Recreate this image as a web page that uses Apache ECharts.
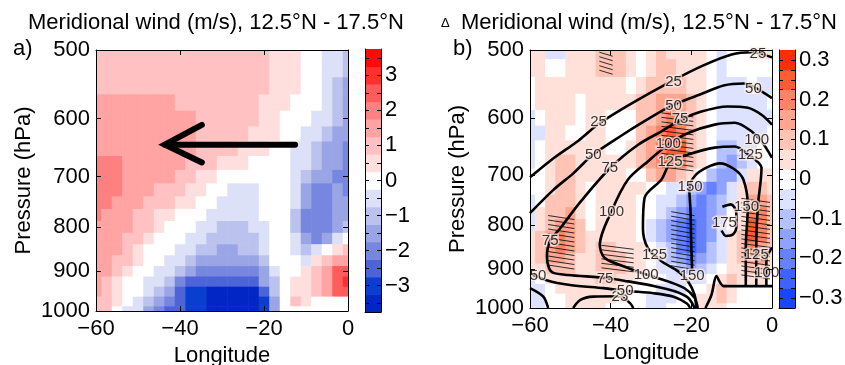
<!DOCTYPE html>
<html>
<head>
<meta charset="utf-8">
<script src="https://cdn.jsdelivr.net/npm/echarts@6.0.0/dist/echarts.min.js"></script>
<style>
  html, body { margin: 0; padding: 0; background: #fff; }
  #chart { width: 845px; height: 365px; }
</style>
</head>
<body>
<div id="chart"></div>
<script>
var FONT = '"Liberation Sans", Arial, sans-serif';

// grid of the fields: longitude (deg) x pressure (hPa)
var lons = [-60, -57.5, -55, -52.5, -50, -47.5, -45, -42.5, -40, -37.5, -35, -32.5, -30,
  -27.5, -25, -22.5, -20, -17.5, -15, -12.5, -10, -7.5, -5, -2.5, 0];
var levels = [500, 525, 550, 575, 600, 625, 650, 675, 700, 725, 750, 775, 800,
  825, 850, 875, 900, 925, 950, 975, 1000];

// a) meridional wind (m/s), one row per pressure level
var windA = [
  [1, 1, 1, 1, 1, 1, 1, 1, 1, 1, 1, 1, 1, 1, 1, 1, 1, 0.5, 0.5, 0.5, 0, 0, -0.5, -0.5, -1],
  [1, 1, 1, 1, 1, 1, 1, 1, 1, 1, 1, 1, 1, 1, 1, 1, 1, 0.5, 0.5, 0.5, 0, 0, -0.5, -0.5, -1],
  [1, 1, 1, 1, 1, 1, 1, 1, 1, 1, 1, 1, 1, 1, 1, 1, 1, 0.5, 0.5, 0.5, 0, 0, -0.5, -1, -1.5],
  [1.5, 1.5, 1.5, 1.5, 1.5, 1.5, 1.5, 1.5, 1, 1, 1, 1, 1, 1, 1, 1, 0.5, 0.5, 0.5, 0, 0, 0, -0.5, -1, -1.5],
  [1.5, 1.5, 1.5, 1.5, 1.5, 1.5, 1.5, 1.5, 1.5, 1.5, 1, 1, 1, 1, 1, 1, 0.5, 0.5, 0, 0, 0, -0.5, -0.5, -1, -1.5],
  [1.5, 1.5, 1.5, 1.5, 1.5, 1.5, 1.5, 1.5, 1.5, 1.5, 1, 1, 1, 1, 1, 0.5, 0.5, 0.5, 0, 0, -0.5, -0.5, -1, -1.5, -1.5],
  [1.5, 1.5, 1.5, 1.5, 1.5, 1.5, 1.5, 1.5, 1.5, 1.5, 1, 1, 1, 1, 0.5, 0.5, 0.5, 0, 0, -0.5, -0.5, -1, -1.5, -1.5, -2],
  [2, 2, 2, 1.5, 1.5, 1.5, 1.5, 1.5, 1.5, 1, 1, 1, 0.5, 0.5, 0.5, 0, 0, 0, 0, -0.5, -0.5, -1, -1.5, -1.5, -2],
  [2, 2, 2, 1.5, 1.5, 1.5, 1.5, 1.5, 1, 1, 0.5, 0.5, 0, 0, 0, 0, 0, 0, 0, -0.5, -1, -1.5, -1.5, -2, -2],
  [2, 2, 2, 1.5, 1.5, 1.5, 1, 1, 1, 0.5, 0.5, 0, 0, -0.5, -0.5, -0.5, 0, 0, 0, -0.5, -1.5, -2, -2, -1.5, -2],
  [2, 2, 1.5, 1.5, 1.5, 1, 1, 1, 0.5, 0.5, 0, 0, -0.5, -0.5, -0.5, -0.5, 0, 0, 0, -0.5, -1.5, -2, -2, -1.5, -1.5],
  [2, 1.5, 1.5, 1.5, 1, 1, 0.5, 0.5, 0, 0, 0, -0.5, -0.5, -0.5, -0.5, -0.5, 0, 0, 0, -1, -2, -2, -2, -1.5, -1.5],
  [1.5, 1.5, 1.5, 1.5, 1, 1, 0.5, 0, 0, 0, -0.5, -0.5, -1, -1, -1, -0.5, -0.5, 0, 0, -1, -2, -2, -2, -1.5, -1],
  [1.5, 1.5, 1.5, 1, 1, 0.5, 0, 0, 0, -0.5, -0.5, -1, -1, -1, -1, -1, -0.5, 0, 0, -0.5, -1.5, -2, -1.5, -0.5, 0],
  [1.5, 1.5, 1.5, 1, 0.5, 0, 0, 0, -0.5, -0.5, -1, -1, -1.5, -1.5, -1, -1, -0.5, 0, 0, -0.5, -1, -0.5, 0, 0.5, 1],
  [1.5, 1.5, 1, 1, 0.5, 0, 0, -0.5, -0.5, -1, -1.5, -1.5, -1.5, -1.5, -1.5, -1.5, -1, 0, 0, 0, -0.5, 0.5, 1, 1.5, 1.5],
  [1.5, 1.5, 1, 0.5, 0, 0, -0.5, -0.5, -1, -1.5, -2, -2, -2, -2, -2, -2, -1.5, -0.5, 0, 0, 0.5, 1, 1.5, 2.5, 2.5],
  [1.5, 1, 0.5, 0, 0, -0.5, -0.5, -1, -2, -2.5, -2.5, -2.5, -2.5, -2.5, -2.5, -2.5, -1.5, -1, 0, 0.5, 0.5, 1, 1.5, 2.5, 3],
  [1.5, 1, 0.5, 0, 0, -0.5, -1, -1.5, -2.5, -3, -3, -3.5, -3.5, -3.5, -3.5, -3.5, -2.5, -1, 0, 0.5, 0.5, 1, 1.5, 2.5, 2.5],
  [1, 1, 0.5, 0, -0.5, -1, -1.5, -2, -2.5, -3, -3, -3.5, -3.5, -3.5, -3.5, -3.5, -3, -1.5, 0, 1, 0.5, 0, 0, 0, 0],
  [1, 1, 0, -0.5, -0.5, -1.5, -2, -2.5, -2.5, -3, -3, -3.5, -3.5, -3.5, -3.5, -3.5, -3, -1.5, 0, 0, 0, 0, 0, 0, 0]
];

// b) change of meridional wind (m/s)
var windB = [
  [0.05, 0.05, -0.05, -0.05, 0.05, 0.05, 0.05, 0.1, 0.1, 0.1, 0.05, 0, 0.05, 0.1, 0.05, 0.05, 0.05, 0.05, 0, -0.05, 0, 0, 0, 0.05, 0.05],
  [0.05, 0.05, 0, 0, 0.05, 0.05, 0.05, 0.1, 0.1, 0.1, 0.05, 0, 0.05, 0.1, 0.1, 0.05, 0.05, 0.05, 0, -0.05, 0, 0, 0, 0, 0],
  [0, 0.05, 0.05, 0.05, 0.05, 0.05, 0.05, 0.05, 0.05, 0.05, 0, 0.05, 0.1, 0.1, 0.1, 0.1, 0.05, 0.05, 0, -0.05, -0.05, -0.05, 0, -0.05, -0.05],
  [0, 0.05, 0.05, 0.05, 0.05, 0, 0.05, 0.05, 0.05, 0.05, 0.05, 0.1, 0.1, 0.15, 0.15, 0.15, 0.1, 0.05, 0, -0.05, -0.05, -0.05, -0.05, -0.05, 0],
  [-0.05, 0, 0.05, 0.05, 0.05, 0, 0.05, 0.05, 0, 0, 0, 0.1, 0.1, 0.15, 0.2, 0.15, 0.1, 0.05, 0, -0.05, -0.05, -0.05, -0.05, -0.05, -0.05],
  [-0.05, -0.05, 0.05, 0.05, 0, 0, 0.05, 0.05, 0, 0, 0, 0.1, 0.15, 0.2, 0.25, 0.2, 0.1, 0.05, 0, -0.05, -0.05, -0.05, -0.05, -0.05, 0],
  [-0.05, 0, 0.05, 0.05, 0.05, 0.05, 0.05, 0.05, 0, 0, 0.05, 0.1, 0.15, 0.2, 0.25, 0.25, 0.1, 0.05, 0, -0.1, -0.1, -0.05, -0.05, 0, 0],
  [-0.05, 0, 0.05, 0.1, 0.1, 0.05, 0.05, 0.05, 0.05, 0.05, 0.05, 0.1, 0.15, 0.2, 0.25, 0.2, 0.1, 0.05, 0, -0.1, -0.15, -0.1, -0.05, 0, 0],
  [0, 0, 0.05, 0.1, 0.1, 0.05, 0.05, 0.05, 0.05, 0.05, 0, 0, 0.1, 0.15, 0.15, 0.1, 0.05, 0, -0.1, -0.15, -0.15, -0.05, 0.05, 0.05, 0.05],
  [0, 0, 0.05, 0.1, 0.1, 0.05, 0, 0.05, 0.05, 0.05, 0.05, 0.05, 0, 0, -0.05, -0.05, -0.1, -0.15, -0.2, -0.15, -0.05, 0.05, 0.1, 0.1, 0.05],
  [-0.05, 0, 0.1, 0.1, 0.1, 0.05, 0, 0.05, 0.05, 0.05, 0.05, 0, 0, -0.05, -0.05, -0.1, -0.15, -0.2, -0.15, -0.1, -0.05, 0.05, 0.15, 0.15, 0.1],
  [-0.05, 0.05, 0.1, 0.1, 0.15, 0.05, 0, 0.05, 0.05, 0.05, 0.05, 0, 0, -0.05, -0.1, -0.15, -0.2, -0.2, -0.15, -0.1, 0, 0.05, 0.2, 0.2, 0.1],
  [-0.05, 0.05, 0.1, 0.15, 0.15, 0.1, 0, 0.05, 0.05, 0.05, 0.05, 0, -0.05, -0.1, -0.15, -0.2, -0.25, -0.2, -0.15, -0.05, 0, 0.05, 0.25, 0.2, 0.1],
  [0.05, 0.1, 0.15, 0.2, 0.15, 0.1, 0.05, 0.05, 0.05, 0.05, 0.05, 0, -0.05, -0.1, -0.15, -0.2, -0.25, -0.2, -0.15, -0.05, 0.05, 0.1, 0.25, 0.2, 0.1],
  [0.05, 0.1, 0.15, 0.2, 0.15, 0.1, 0.05, 0.1, 0.1, 0.05, 0.05, 0.05, 0, -0.05, -0.1, -0.2, -0.25, -0.2, -0.1, -0.05, 0.05, 0.1, 0.2, 0.15, 0.1],
  [0.05, 0.1, 0.15, 0.15, 0.1, 0.05, 0.05, 0.1, 0.1, 0.1, 0.05, 0.05, 0, -0.05, -0.1, -0.15, -0.2, -0.15, -0.1, -0.05, 0.05, 0.1, 0.15, 0.15, 0.05],
  [0.05, 0.05, 0.1, 0.1, 0.1, 0.05, 0.05, 0.1, 0.1, 0.1, 0.05, 0.05, 0, -0.05, -0.05, -0.1, -0.15, -0.1, -0.05, 0, 0.05, 0.05, 0.1, 0.1, 0.05],
  [-0.05, 0, 0.05, 0.05, 0.05, 0.05, 0.05, 0.1, 0.1, 0.05, 0.05, 0, 0, 0, -0.05, -0.05, -0.05, -0.05, 0, 0.05, 0.1, 0.05, 0.05, 0.05, 0],
  [-0.05, -0.05, 0, 0.05, 0.05, 0.05, 0.05, 0.05, 0.05, 0.05, 0, 0, 0, -0.05, -0.05, -0.05, 0, 0, 0.05, 0.1, 0.05, 0, 0, 0, 0],
  [-0.05, -0.05, 0, 0, 0.05, 0.05, 0.05, 0.05, 0.05, 0, 0, 0, -0.05, -0.05, -0.05, 0, 0, 0.05, 0.05, 0.1, 0.05, 0, 0, 0, 0],
  [-0.05, -0.05, 0, 0, 0.05, 0.05, 0.05, 0.05, 0, 0, 0, 0, -0.05, -0.05, 0, 0, 0, 0.05, 0.05, 0.05, 0, 0, 0, 0, 0]
];

// colour classes (band centres) and their colours
var bandsA = [-3.5, -3, -2.5, -2, -1.5, -1, -0.5, 0, 0.5, 1, 1.5, 2, 2.5, 3, 3.5];
var colorsA = ['#0026c4', '#0a3ecf', '#4d64d8', '#7786df', '#9aa5e6', '#bbc2ee', '#dde1f7', '#ffffff',
  '#ffdede', '#ffc1c1', '#ffa3a3', '#ff8080', '#ff5c5c', '#ff3030', '#ff0a0a'];
var bandsB = [-0.3, -0.25, -0.2, -0.15, -0.1, -0.05, 0, 0.05, 0.1, 0.15, 0.2, 0.25, 0.3];
var colorsB = ['#1a45ff', '#3d62ff', '#6681ff', '#8fa2ff', '#b5c2ff', '#dce2ff', '#ffffff',
  '#ffe1da', '#ffc4b6', '#ffa590', '#ff8466', '#ff5c33', '#ff2e00'];

var pTicks = [500, 600, 700, 800, 900, 1000];
var cbTicksA = [-3, -2, -1, 0, 1, 2, 3];
var cbMinorA = [-3.5, -3, -2.5, -2, -1.5, -1, -0.5, 0, 0.5, 1, 1.5, 2, 2.5, 3, 3.5];
var cbTicksB = [-0.3, -0.2, -0.1, 0, 0.1, 0.2, 0.3];
var cbMinorB = [-0.3, -0.275, -0.25, -0.225, -0.2, -0.175, -0.15, -0.125, -0.1, -0.075, -0.05, -0.025, 0,
  0.025, 0.05, 0.075, 0.1, 0.125, 0.15, 0.175, 0.2, 0.225, 0.25, 0.275, 0.3];

// arrow in panel a) [lon, hPa]
var arrowShaft = [[-12.6, 643], [-43.6, 643]];
var arrowHead = [[-34.8, 610], [-43.6, 643], [-34.8, 674]];

// black contours in panel b) [lon, hPa]
var c25top = [[-60, 704], [-54, 668], [-48, 638], [-43, 610], [-35, 578], [-25, 544], [-17, 521], [-10, 506], [-5, 503], [0, 510]];
var c25low = [[-49.3, 1000], [-47.6, 979], [-44.3, 970], [-37.7, 969], [-35.2, 987], [-34.4, 1000]];
var c25corner = [[-60, 948], [-56.7, 970], [-55.5, 1000]];
var c50top = [[-60, 775], [-54.2, 728], [-49.2, 696], [-44.5, 663], [-37.5, 630], [-31, 603], [-25, 581], [-18, 564], [-12, 550], [-7, 547], [-4, 554], [0, 569]];
var c50low = [[-60, 911], [-55.9, 928], [-50.1, 940], [-41.8, 948], [-36, 955], [-29.4, 961], [-24.4, 970], [-21.1, 988], [-20.3, 1000]];
var c75 = [[0, 611], [-2.6, 595], [-6, 584], [-11, 582], [-17.5, 590], [-22.5, 603], [-27.4, 622], [-33.2, 645], [-40.2, 687],
  [-47.5, 752], [-52.4, 806], [-55, 835], [-55.8, 870], [-55.3, 898], [-54.2, 910], [-50.6, 915], [-40.7, 923], [-35.7, 931],
  [-29.1, 943], [-24.1, 956], [-20.8, 973], [-19.2, 1000]];
var c100 = [[0, 668], [-2.6, 639], [-5.1, 622], [-9.2, 608], [-14.2, 611], [-20.8, 625], [-25.8, 645], [-30.7, 674], [-35.7, 708],
  [-39.8, 771], [-42.7, 844], [-41.5, 874], [-35.7, 898], [-31.2, 914], [-25.8, 931], [-21.6, 949], [-19.2, 973], [-18.4, 1000]];
var c100right = [[0, 850], [-1.4, 880], [-1.4, 943]];
var c125 = [[-3.9, 943], [-3.9, 850], [-3.5, 760], [-2.8, 710], [-2.6, 686], [-5.9, 662], [-9.2, 648], [-14.2, 650], [-20.8, 662],
  [-25, 674], [-27.4, 708], [-31.6, 744], [-32, 807], [-30.8, 851], [-27.4, 882], [-23.3, 906], [-20.8, 931], [-19.2, 965], [-18.8, 1000]];
var c150 = [[-6.5, 943], [-6.5, 850], [-6, 762], [-7.1, 708], [-9.5, 688], [-12.9, 678], [-16, 685], [-19, 700], [-20.5, 725],
  [-20.2, 771], [-20, 850], [-19.8, 905]];
var c175 = [[-12.3, 762], [-10.2, 757], [-8.9, 772], [-8.8, 800], [-9.6, 820], [-11.4, 824], [-12.5, 812]];
var cSurface = [[-16.5, 1000], [-15, 965], [-13.8, 918], [-12.8, 935], [-12, 943], [0, 943]];
var contours = [c25top, c25low, c25corner, c50top, c50low, c75, c100, c100right, c125, c150, c175, cSurface];

var contourLabels = [
  [-43, 606, '25'], [-24.4, 544, '25'], [-3.5, 505, '25'], [-37.7, 970, '25'],
  [-44.3, 663, '50'], [-24.4, 581, '50'], [-4.6, 555, '50'], [-58, 918, '50'], [-36.4, 955, '50'],
  [-55, 835, '75'], [-40.2, 687, '75'], [-22.8, 601, '75'], [-41.4, 924, '75'],
  [-3.8, 636, '100'], [-25.7, 643, '100'], [-39.8, 773, '100'], [-31.2, 914, '100'], [-1.3, 911, '100'],
  [-5.4, 662, '125'], [-25.3, 676, '125'], [-29.1, 866, '125'], [-3.9, 866, '125'],
  [-20.3, 722, '150'], [-6.3, 762, '150'], [-19.8, 918, '150'],
  [-11.8, 795, '175']
];

// significance hatching boxes [lon0, lon1, hPa0, hPa1]
var hatchBoxes = [[-42.8, -39.5, 503, 535], [-27.4, -19.5, 592, 693], [-55.5, -49, 780, 900],
  [-42.3, -34.3, 845, 906], [-25, -19.2, 772, 906], [-7.6, -0.5, 745, 925]];

function cells(grid) {
  var out = [];
  for (var i = 0; i < levels.length; i++) {
    for (var j = 0; j < lons.length; j++) {
      out.push([lons[j], levels[i], grid[i][j]]);
    }
  }
  return out;
}

function pieces(bands, colors, half) {
  return bands.map(function (v, i) {
    return { min: v - half, max: v + half, color: colors[i] };
  });
}

function minus(v) {
  return (v < 0 ? '\u2212' : '') + Math.abs(v);
}

function renderCell(params, api) {
  var lon = api.value(0), p = api.value(1);
  var a = api.coord([lon - 1.25, p - 12.5]);
  var b = api.coord([lon + 1.25, p + 12.5]);
  return {
    type: 'rect',
    shape: {
      x: Math.min(a[0], b[0]), y: Math.min(a[1], b[1]),
      width: Math.abs(b[0] - a[0]) + 0.6, height: Math.abs(b[1] - a[1]) + 0.6
    },
    style: { fill: api.visual('color') }
  };
}

function renderBar(colors, half) {
  return function (params, api) {
    var v = api.value(0);
    var a = api.coord([0, v + half]);
    var b = api.coord([1, v - half]);
    return {
      type: 'rect',
      shape: { x: a[0], y: a[1], width: b[0] - a[0], height: b[1] - a[1] + 0.5 },
      style: { fill: colors[params.dataIndex] }
    };
  };
}

function renderHatch(params, api) {
  var a = api.coord([api.value(0), api.value(2)]);
  var b = api.coord([api.value(1), api.value(3)]);
  var kids = [];
  for (var y = a[1] + 2; y < b[1] - 1; y += 4.5) {
    kids.push({
      type: 'line',
      shape: { x1: a[0], y1: y - 2, x2: b[0], y2: y + 2 },
      style: { stroke: '#000', lineWidth: 0.8 }
    });
  }
  return { type: 'group', children: kids };
}

var textStyle = { color: '#000', fontSize: 22, fontFamily: FONT };

function lonAxis(grid, pos, labels) {
  return {
    type: 'value', gridIndex: grid, position: pos, min: -60, max: 0, interval: 20, z: 10,
    axisLine: { show: true, onZero: false, lineStyle: { color: '#000', width: 1 } },
    axisTick: { show: true, inside: true, length: 5, lineStyle: { color: '#000' } },
    axisLabel: { show: labels, margin: 7, formatter: minus, color: '#000', fontSize: 22, fontFamily: FONT },
    splitLine: { show: false },
    name: labels ? 'Longitude' : '', nameLocation: 'middle', nameGap: 31, nameTextStyle: textStyle
  };
}

function pAxis(grid, pos, labels) {
  return {
    type: 'log', logBase: 10, gridIndex: grid, position: pos, inverse: true, min: 500, max: 1000, z: 10,
    axisLine: { show: true, onZero: false, lineStyle: { color: '#000', width: 1 } },
    axisTick: { show: true, inside: true, length: 5, customValues: pTicks, lineStyle: { color: '#000' } },
    axisLabel: {
      show: labels, margin: 6, customValues: pTicks, color: '#000', fontSize: 22, fontFamily: FONT,
      formatter: function (v) { return String(Math.round(v)); }
    },
    splitLine: { show: false },
    name: labels ? 'Pressure (hPa)' : '', nameLocation: 'middle', nameGap: 61, nameTextStyle: textStyle
  };
}

function barXAxis(grid) {
  return {
    type: 'value', gridIndex: grid, min: 0, max: 1, z: 10,
    axisLine: { show: true, onZero: false, lineStyle: { color: '#000' } },
    axisTick: { show: false }, axisLabel: { show: false }, splitLine: { show: false }
  };
}

function barYAxis(grid, pos, lo, hi, labels, minor, labelValues) {
  return {
    type: 'value', gridIndex: grid, position: pos, min: lo, max: hi, z: 10,
    axisLine: { show: true, onZero: false, lineStyle: { color: '#000' } },
    axisTick: { show: true, inside: true, length: 4, customValues: minor, lineStyle: { color: '#000' } },
    axisLabel: { show: labels, margin: 4, customValues: labelValues, formatter: minus, color: '#000', fontSize: 22, fontFamily: FONT },
    splitLine: { show: false }
  };
}

var series = [
  {
    type: 'custom', name: 'windA', xAxisIndex: 0, yAxisIndex: 0, clip: true,
    encode: { x: 0, y: 1 }, renderItem: renderCell, data: cells(windA), z: 1
  },
  {
    type: 'line', xAxisIndex: 0, yAxisIndex: 0, data: arrowShaft, symbol: 'none', z: 5,
    lineStyle: { color: '#000', width: 6, cap: 'round' }
  },
  {
    type: 'line', xAxisIndex: 0, yAxisIndex: 0, data: arrowHead, symbol: 'none', z: 5,
    lineStyle: { color: '#000', width: 6, cap: 'round', join: 'miter' }
  },
  {
    type: 'custom', xAxisIndex: 2, yAxisIndex: 2, encode: { y: 0 },
    renderItem: renderBar(colorsA, 0.25), data: bandsA.map(function (v) { return [v]; })
  },
  {
    type: 'custom', name: 'windB', xAxisIndex: 3, yAxisIndex: 4, clip: true,
    encode: { x: 0, y: 1 }, renderItem: renderCell, data: cells(windB), z: 1
  },
  {
    type: 'custom', xAxisIndex: 3, yAxisIndex: 4, clip: true, encode: { x: [0, 1], y: [2, 3] },
    renderItem: renderHatch, data: hatchBoxes, z: 3
  },
  {
    type: 'custom', xAxisIndex: 5, yAxisIndex: 6, encode: { y: 0 },
    renderItem: renderBar(colorsB, 0.025), data: bandsB.map(function (v) { return [v]; })
  }
];

contours.forEach(function (c) {
  series.push({
    type: 'line', xAxisIndex: 3, yAxisIndex: 4, data: c, symbol: 'none', smooth: 0.3, z: 4,
    lineStyle: { color: '#000', width: 2.6 }, clip: true
  });
});

series.push({
  type: 'scatter', xAxisIndex: 3, yAxisIndex: 4, z: 6, symbol: 'circle', symbolSize: 1,
  itemStyle: { color: 'transparent' },
  data: contourLabels.map(function (d) { return { value: [d[0], d[1]], name: d[2] }; }),
  label: {
    show: true, position: 'inside', formatter: '{b}', color: '#000', fontSize: 15, fontFamily: FONT,
    textBorderColor: 'rgba(255,236,230,0.95)', textBorderWidth: 3
  }
});

var option = {
  animation: false,
  backgroundColor: '#fff',
  graphic: [
    { type: 'text', left: 28, top: 12, style: { text: 'Meridional wind (m/s), 12.5\u00b0N - 17.5\u00b0N', font: '22px ' + FONT, fill: '#000' } },
    { type: 'text', left: 441, top: 17, style: { text: '\u0394', font: '13px ' + FONT, fill: '#000' } },
    { type: 'text', left: 461, top: 12, style: { text: 'Meridional wind (m/s), 12.5\u00b0N - 17.5\u00b0N', font: '22px ' + FONT, fill: '#000' } },
    { type: 'text', left: 13, top: 38, style: { text: 'a)', font: '22px ' + FONT, fill: '#000' } },
    { type: 'text', left: 453, top: 38, style: { text: 'b)', font: '22px ' + FONT, fill: '#000' } }
  ],
  grid: [
    { left: 96, top: 50, width: 252, height: 261, outerBoundsMode: 'none', containLabel: false },
    { left: 365, top: 49, width: 16, height: 263, outerBoundsMode: 'none', containLabel: false },
    { left: 530, top: 50, width: 242, height: 258, outerBoundsMode: 'none', containLabel: false },
    { left: 779, top: 50, width: 16, height: 258, outerBoundsMode: 'none', containLabel: false }
  ],
  xAxis: [
    lonAxis(0, 'bottom', true), lonAxis(0, 'top', false), barXAxis(1),
    lonAxis(2, 'bottom', true), lonAxis(2, 'top', false), barXAxis(3)
  ],
  yAxis: [
    pAxis(0, 'left', true), pAxis(0, 'right', false),
    barYAxis(1, 'right', -3.75, 3.75, true, cbMinorA, cbTicksA), barYAxis(1, 'left', -3.75, 3.75, false, cbMinorA, cbTicksA),
    pAxis(2, 'left', true), pAxis(2, 'right', false),
    barYAxis(3, 'right', -0.325, 0.325, true, cbMinorB, cbTicksB), barYAxis(3, 'left', -0.325, 0.325, false, cbMinorB, cbTicksB)
  ],
  visualMap: [
    { type: 'piecewise', show: false, seriesIndex: 0, dimension: 2, pieces: pieces(bandsA, colorsA, 0.25) },
    { type: 'piecewise', show: false, seriesIndex: 4, dimension: 2, pieces: pieces(bandsB, colorsB, 0.025) }
  ],
  series: series
};

var myChart = echarts.init(document.getElementById('chart'));
myChart.setOption(option);
</script>
</body>
</html>
